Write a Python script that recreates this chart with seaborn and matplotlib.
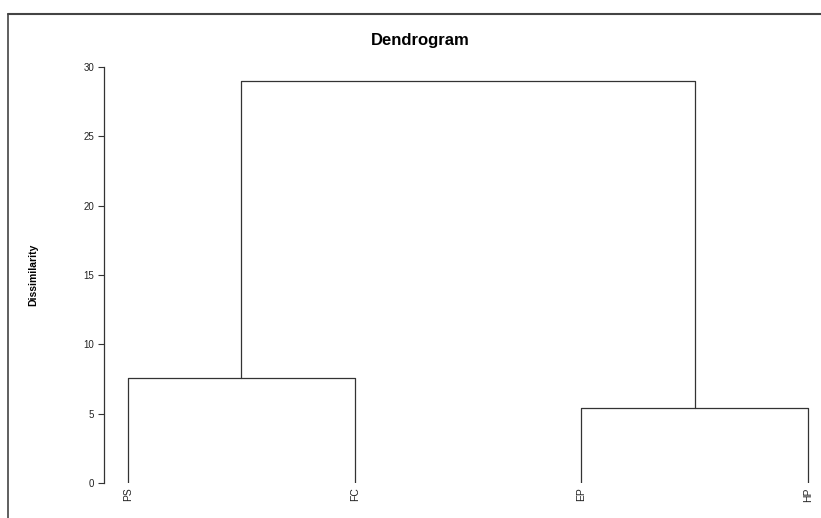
import matplotlib
matplotlib.use("Agg")
import matplotlib.pyplot as plt
import seaborn as sns
import pandas as pd
from matplotlib.lines import Line2D

# Data
leaves = ["PS", "FC", "EP", "HP"]
# merges: (left cluster, right cluster, height); clusters 0-3 are leaves, 4+ new nodes
merge_left = [0, 2, 4]
merge_right = [1, 3, 5]
merge_height = [7.6, 5.4, 29.0]
yticks = [0, 5, 10, 15, 20, 25, 30]

sns.set_theme(style="white")
plt.rcParams['font.family'] = ['Liberation Sans', 'DejaVu Sans']
plt.rcParams['text.color'] = 'black'
plt.rcParams['xtick.color'] = '#222222'
plt.rcParams['ytick.color'] = '#222222'

# build segments
pos = {i: float(i) for i in range(len(leaves))}
hgt = {i: 0.0 for i in range(len(leaves))}
rows = []
for k, (a, b, h) in enumerate(zip(merge_left, merge_right, merge_height)):
    xs = [pos[a], pos[a], pos[b], pos[b]]
    ys = [hgt[a], h, h, hgt[b]]
    for j, (x, y) in enumerate(zip(xs, ys)):
        rows.append({"link": k, "order": j, "x": x, "y": y})
    node = len(leaves) + k
    pos[node] = (pos[a] + pos[b]) / 2
    hgt[node] = h
df = pd.DataFrame(rows)

fig = plt.figure(figsize=(8.21, 5.18), dpi=100)
ax = fig.add_axes([104/821, 35/518, 1 - 104/821, (483-67)/518])

sns.lineplot(data=df, x="x", y="y", units="link", estimator=None, sort=False,
             color="#333333", linewidth=0.9, ax=ax, legend=False)

ax.set_xlim(-24/227, 3 + 13/227)
ax.set_ylim(0, 30)
ax.set_yticks(yticks)
ax.set_yticklabels([str(t) for t in yticks], fontsize=7)
ax.set_xticks(range(len(leaves)))
ax.set_xticklabels(leaves, rotation=90, fontsize=7.5, va="top")
ax.tick_params(axis="x", length=0, pad=3)
ax.tick_params(axis="y", length=4, width=0.8, color="#333333", pad=3, left=True)
for s in ["top", "right", "bottom"]:
    ax.spines[s].set_visible(False)
ax.spines["left"].set_color("#333333")
ax.spines["left"].set_linewidth(0.9)
ax.set_xlabel("")
ax.set_ylabel("Dissimilarity", fontsize=7.5, fontweight="bold", color="black")
ax.yaxis.set_label_coords((38 - 104) / 717, 0.5)
ax.patch.set_alpha(0)

fig.text(420/821, 1 - 41/518, "Dendrogram", ha="center", va="center",
         fontsize=12, fontweight="bold", color="black")

# outer frame (partially visible)
fig.add_artist(Line2D([8/821, 8/821], [0, 1 - 14/518], transform=fig.transFigure,
                      color="#444444", linewidth=1.2))
fig.add_artist(Line2D([8/821, 1], [1 - 14/518, 1 - 14/518], transform=fig.transFigure,
                      color="#444444", linewidth=1.5))

fig.savefig("out.png", dpi=100, facecolor="white")
